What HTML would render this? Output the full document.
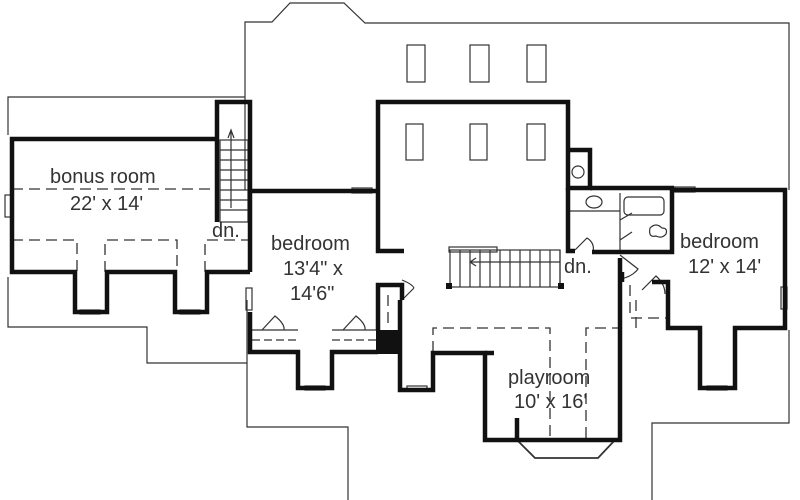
<!DOCTYPE html>
<html><head><style>
html,body{margin:0;padding:0;background:#fff;width:800px;height:500px;overflow:hidden}
svg{display:block}
text{font-family:"Liberation Sans",sans-serif;fill:#333;font-size:20px}
</style></head><body>
<svg width="800" height="500" viewBox="0 0 800 500">
<g fill="none" stroke="#333" stroke-width="1.2">
<polyline points="245,190 245,22 272,22 290,3 344,3 365,23 789,23 789,190"/>
<polyline points="789,330 789,423 652,423 652,500"/>
<polyline points="245,97 8,97 8,135"/>
<polyline points="8,277 8,327 147,327 147,363 247,363 247,427 348,427 348,500"/>
<polyline points="247,363 247,300"/>
<rect x="407" y="45" width="18" height="37"/>
<rect x="470" y="45" width="19" height="37"/>
<rect x="527" y="45" width="19" height="37"/>
<rect x="406" y="124" width="17" height="36"/>
<rect x="470" y="124" width="17" height="36"/>
<rect x="527" y="124" width="18" height="36"/>
<circle cx="578" cy="172" r="6"/>
<ellipse cx="594" cy="202" rx="8" ry="6"/>
<rect x="624" y="197" width="40" height="18" rx="4"/>
<path d="M570,211 H620 M620,193 V250"/>
<path d="M650,228 q6,-6 12,0 q6,0 4,6 q-4,5 -10,2 q-8,2 -6,-8z"/>
<polyline points="517,440 535,458 598,458 615,440" stroke-width="1.8"/>
<rect x="220" y="140" width="28" height="82"/>
<path d="M220,150H248M220,160H248M220,170H248M220,180H248M220,190H248M220,200H248M220,210H248"/>
<path d="M231,208V132M228,138L231,130L234,138"/>
<rect x="450" y="250" width="110" height="37"/>
<path d="M460,250V287M470,250V287M480,250V287M490,250V287M500,250V287M510,250V287M520,250V287M530,250V287M540,250V287M550,250V287M560,250V287"/>
<path d="M470,262H560M470,262l6,-4M470,262l6,4"/>
<rect x="449" y="247" width="48" height="5"/>
<rect x="352" y="188" width="20" height="5"/>
<rect x="5" y="195" width="6" height="22"/>
<rect x="246" y="288" width="6" height="22"/>
<rect x="675" y="187" width="20" height="5"/>
<rect x="781" y="287" width="6" height="22"/>
<rect x="80" y="310" width="20" height="4"/>
<rect x="180" y="310" width="20" height="4"/>
<rect x="305" y="386" width="20" height="4"/>
<rect x="407" y="386" width="20" height="4"/>
<rect x="707" y="386" width="20" height="4"/>
<path d="M262,330 l13,-14 q10,8 9,14"/>
<path d="M343,330 l13,-14 q10,8 9,14"/>
<path d="M402,300 l12,-12 M402,280 q10,4 12,8"/>
<path d="M575,250 l12,-12 q8,5 6,14"/>
<path d="M620,220 l12,-7 M620,240 l12,-8"/>
<path d="M620,255 l18,14 q-6,8 -18,10"/>
<path d="M642,290 l14,-14 q9,8 9,18"/>
<path d="M252,340H298M332,340H378" stroke-dasharray="8,4"/>
<path d="M252,330H298M332,330H378"/>
</g>
<g fill="none" stroke="#333" stroke-width="1.3" stroke-dasharray="11,6">
<path d="M12,189H215"/>
<path d="M12,240H77V272M105,272V240H177V272M205,272V240H250"/>
<path d="M433,352V328H550V438M586,438V328H620"/>
<path d="M630,285V318H668M636,300V330"/>
<path d="M388,295V328"/>
</g>
<g fill="none" stroke="#111" stroke-width="4.5" stroke-linejoin="miter">
<polyline points="215,139 12,139 12,272 75,272 75,312 107,312 107,272 175,272 175,312 207,312 207,272 250,272"/>
<polyline points="217,222 217,102 250,102 250,272"/>
<polyline points="250,312 250,352 298,352 298,388 332,388 332,352 378,352"/>
<polyline points="250,191 377,191"/>
<polyline points="404,251 378,251 378,102 568,102 568,188 590,188 590,150 568,150"/>
<polyline points="590,188 672,188 672,252 592,252"/>
<polyline points="568,188 568,251 575,251"/>
<polyline points="672,190 785,190 785,328 735,328 735,388 700,388 700,328 668,328 668,282 652,282"/>
<polyline points="620,258 620,440 485,440 485,353 433,353 433,390 400,390 400,300"/>
<polyline points="485,353 494,353"/>
<polyline points="517,440 517,418"/>
<polyline points="378,330 378,285 402,285 402,300"/>
<polyline points="622,282 622,272"/>
</g>
<rect x="376" y="330" width="26" height="24" fill="#111"/>
<rect x="446" y="283" width="6" height="6" fill="#111"/>
<rect x="558" y="283" width="6" height="6" fill="#111"/>
<text x="50" y="183">bonus room</text>
<text x="70" y="210">22' x 14'</text>
<text x="212" y="237" font-size="18">dn.</text>
<text x="271" y="250">bedroom</text>
<text x="283" y="275">13'4" x</text>
<text x="290" y="300">14'6"</text>
<text x="564" y="273" font-size="18">dn.</text>
<text x="680" y="248">bedroom</text>
<text x="688" y="273">12' x 14'</text>
<text x="508" y="384">playroom</text>
<text x="514" y="408">10' x 16'</text>
</svg>
</body></html>
